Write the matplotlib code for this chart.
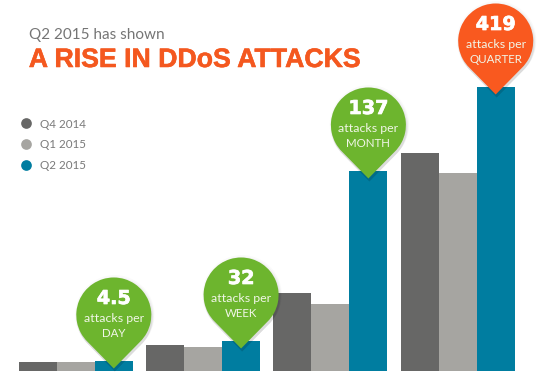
import matplotlib
matplotlib.use("Agg")
import matplotlib.pyplot as plt
import matplotlib.patheffects as pe
from matplotlib.lines import Line2D
from matplotlib.path import Path
from matplotlib.patches import PathPatch
from matplotlib.transforms import Affine2D

# bar heights (the graphic is not to scale)
q4_2014 = [9, 26, 78, 218]
q1_2015 = [9, 24, 67, 198]
q2_2015 = [10, 30, 200, 284]

pin_numbers = ["4.5", "32", "137", "419"]
pin_units = ["DAY", "WEEK", "MONTH", "QUARTER"]
pin_colors = ["#6DB52E", "#6DB52E", "#6DB52E", "#F9591F"]

series_names = ["Q4 2014", "Q1 2015", "Q2 2015"]
series_colors = ["#676766", "#A6A5A1", "#007DA0"]

W, H = 540, 386
BASE = 370.5
STEP = 127.3
BAR = 38.0
X0 = 75.8

plt.rcParams["font.family"] = ["Liberation Sans", "DejaVu Sans"]

fig = plt.figure(figsize=(W / 100, H / 100), dpi=100, facecolor="white")
ax = fig.add_axes([0, 0, 1, 1])
ax.set_xlim(-X0 / STEP, (W - X0) / STEP)
ax.set_ylim(BASE - H, BASE)
ax.axis("off")

for i, (vals, c) in enumerate(zip([q4_2014, q1_2015, q2_2015], series_colors)):
    xs = [g + (i - 1) * BAR / STEP for g in range(len(vals))]
    ax.bar(xs, vals, width=BAR / STEP, color=c, linewidth=0, zorder=2)


def pin_path(r=37.5, d=53.5):
    # teardrop with its tip at (0, 0), lines run tangent into the circle
    arc = Path.arc(-45.5, 225.5)
    verts = [(x * r, y * r + d) for x, y in arc.vertices]
    codes = list(arc.codes)
    verts = [(0, 0)] + verts + [(0, 0)]
    codes = [Path.MOVETO, Path.LINETO] + codes[1:] + [Path.CLOSEPOLY]
    return Path(verts, codes)


shape = pin_path()
light = ["Lato", "Roboto", "DejaVu Sans"]
for g, (h, num, unit, col) in enumerate(zip(q2_2015, pin_numbers, pin_units, pin_colors)):
    x = g + BAR / STEP
    tip_x, tip_y = ax.transData.transform((x, h - 8))
    # soft shadow
    for grow, alpha in [(1.06, 0.02), (1.04, 0.03), (1.02, 0.04), (1.0, 0.05)]:
        tr = Affine2D().scale(grow).translate(tip_x + 1, tip_y - 3)
        ax.add_patch(PathPatch(shape, transform=tr, fc="black", ec="none", alpha=alpha, zorder=3))
    tr = Affine2D().translate(tip_x, tip_y)
    ax.add_patch(PathPatch(shape, transform=tr, fc=col, ec="none", zorder=4))
    ax.annotate(num, (x, h - 8), xytext=(0, 70), textcoords="offset pixels", ha="center", va="center",
                fontsize=13.8, fontweight="bold", family=["DejaVu Sans"], color="white", zorder=5,
                path_effects=[pe.withStroke(linewidth=0.5, foreground="white")])
    ax.annotate("attacks per", (x, h - 8), xytext=(0, 50), textcoords="offset pixels", ha="center",
                va="center", fontsize=8.9, family=light, color="#F1F6E8", zorder=5)
    ax.annotate(unit, (x, h - 8), xytext=(0, 35), textcoords="offset pixels", ha="center",
                va="center", fontsize=8.3, family=light, color="#F1F6E8", zorder=5)

# title block, figure pixels from the top left
fig.text(29 / W, 1 - 38.5 / H, "Q2 2015 has shown", fontsize=11.0, color="#757575",
         family=light, va="baseline")
fig.text(28.8 / W, 1 - 67 / H, "A RISE IN DDoS ATTACKS", fontsize=19.2, color="#F4581F",
         fontweight="bold", va="baseline",
         path_effects=[pe.withStroke(linewidth=0.4, foreground="#F4581F")])

handles = [Line2D([], [], ls="none", marker="o", ms=7.7, mfc=c, mec="none") for c in series_colors]
leg = fig.legend(handles, series_names, loc="upper left", bbox_to_anchor=(19.75 / W, 1 - 118.5 / H),
                 frameon=False, labelcolor="#7A7A7A", labelspacing=0.84, handlelength=1,
                 handletextpad=0.71, borderpad=0, borderaxespad=0,
                 prop={"family": light, "size": 8.4})

fig.savefig("out.png", dpi=100, facecolor="white")
